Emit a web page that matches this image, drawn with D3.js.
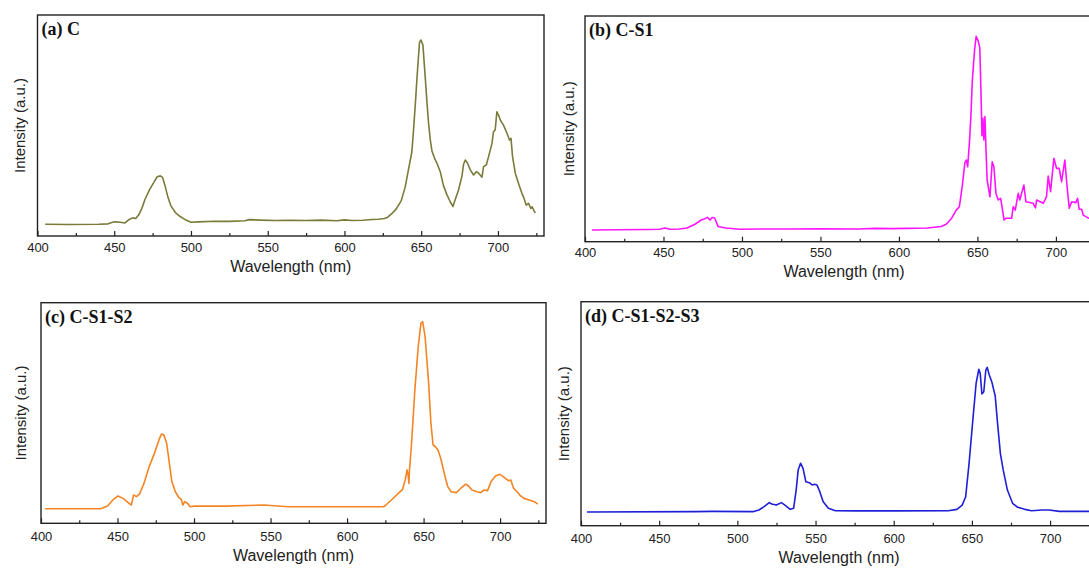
<!DOCTYPE html>
<meta charset="utf-8">
<style>
body { margin: 0; background: #fff; }
svg { display: block; }
.tick text { font-family: "Liberation Sans", Arial, sans-serif; font-size: 13px; fill: #222; }
.tick line { stroke: #222; stroke-width: 1.2; }
.frame { fill: none; stroke: #222; stroke-width: 1.4; }
.axis-title { font-family: "Liberation Sans", Arial, sans-serif; fill: #222; }
.panel-label { font-family: "Liberation Serif", "Times New Roman", serif; font-weight: bold; font-size: 18px; fill: #111; }
</style>
<body>
<script src="https://cdn.jsdelivr.net/npm/d3@7"></script>
<script>

// wavelength ticks (nm)
const xTicks = [400, 425, 450, 475, 500, 525, 550, 575, 600, 625, 650, 675, 700, 725];

// (a) C
const waveA = [405, 420, 440, 446, 450, 454, 457, 460, 462, 464, 466, 468, 470, 473, 476, 478, 480, 481.5, 483, 485, 487, 490, 493, 496, 500, 505, 515, 525, 535, 538, 545, 555, 565, 575, 585, 595, 600, 605, 612, 618, 622, 626, 628, 631, 634, 637, 639.5, 641.7, 643.9, 645, 646.2, 647.2, 648.2, 648.9, 649.8, 651.1, 652.6, 653.8, 654.8, 656, 657, 658.5, 660.2, 662.4, 664.5, 666.8, 668.9, 670.7, 671.5, 674.3, 676.5, 677.6, 678.7, 680.2, 682, 684.1, 685.9, 687.4, 689.6, 690.6, 692.4, 693.9, 696.1, 697.1, 698.2, 699.3, 700.5, 701.5, 703.6, 705.9, 707.5, 708.5, 709.5, 711.3, 713.4, 715.6, 717, 718.4, 719.9, 721.4, 722.3, 723.2, 724.3];
const intA = [5.3, 5.2, 5.3, 5.5, 6.4, 6.2, 5.9, 7.6, 8.2, 7.9, 9.6, 12.5, 16.5, 21, 24.5, 26.8, 27.2, 26.5, 23, 17.5, 13.5, 10.5, 8.8, 7.5, 6.2, 6.4, 6.7, 6.6, 6.9, 7.4, 7.2, 7.0, 7.1, 7.0, 7.2, 6.9, 7.3, 7.0, 7.1, 7.5, 7.6, 7.9, 8.4, 10.2, 12.5, 16, 22, 30, 38, 48, 60, 71, 81, 87.5, 88.7, 86.5, 72, 60, 51, 43, 38.5, 35.5, 33, 29.1, 22.8, 18.6, 15.5, 13.3, 15.2, 20.8, 27, 32.5, 34.4, 32.9, 29.9, 27.6, 29.1, 28.4, 26.6, 31.4, 32.1, 35.9, 41.9, 47.2, 48, 56.2, 54.5, 52.5, 50.2, 46.5, 43.4, 44.2, 35.9, 28.4, 23.8, 19.3, 17, 14, 14.8, 12.5, 13.2, 11.8, 10.3];

// (b) C-S1
const waveB = [404.4, 420, 440, 447.6, 451, 454, 460, 465, 470, 474, 476.5, 478, 479.7, 481, 482.6, 484.8, 489.7, 498.5, 510, 530, 550, 574, 585, 596, 605, 618, 627, 630.3, 633.6, 636.5, 638.5, 640.3, 642, 643, 643.8, 645, 645.8, 646.8, 648.2, 649.2, 650.5, 651.5, 652.2, 652.9, 653.5, 654.1, 654.8, 655.5, 656.2, 658, 659.4, 660.5, 661.8, 663.3, 664.8, 666, 667, 668.2, 671.8, 672.8, 674.1, 676, 677, 679.6, 680.9, 685.5, 687, 687.7, 691.9, 694, 695.1, 696.6, 698.7, 700.4, 702.1, 703.6, 705.7, 707.2, 708.5, 710, 712.7, 713.8, 714.8, 716.4, 717.4, 719.1, 721, 723, 724.5];
const intB = [5.2, 5.3, 5.4, 5.5, 6.1, 5.5, 5.6, 6.1, 7.7, 9.6, 10.2, 10.8, 9.6, 10.7, 10.5, 6.7, 6.1, 5.5, 5.6, 5.6, 5.7, 5.6, 5.9, 5.8, 5.9, 6.1, 6.7, 7.8, 10.4, 14, 15.5, 24.4, 35, 36.2, 33.2, 45, 55, 72, 85, 91, 89, 86, 68, 47, 54.7, 45.1, 55.4, 40, 27.3, 19.9, 35.4, 33.2, 21.4, 18.5, 19.2, 14, 9.6, 10.4, 10.4, 15.5, 14, 21.4, 18.5, 25.1, 17.7, 17, 15, 18.5, 17, 19.9, 29.1, 22.2, 37, 32.5, 32.5, 26.6, 36.2, 23.7, 14.8, 17.7, 17.3, 19.2, 14.4, 14.4, 11.8, 11.1, 10.4, 10.8, 9.8];

// (c) C-S1-S2
const waveC = [402.7, 439, 443.5, 447, 450.3, 453.7, 457.1, 459, 460.5, 462.4, 464.4, 467.3, 470.7, 474.1, 477.1, 478.7, 480.3, 482.1, 483.9, 485.5, 487.8, 490, 491.6, 492.7, 493.9, 495.7, 497.5, 500.2, 520.6, 545.6, 561.5, 577.3, 600, 623.8, 625.4, 629.5, 634, 636.3, 638.1, 639.2, 639.9, 640.4, 640.8, 642, 644.3, 646.5, 648.3, 649.4, 651, 653.3, 654.8, 656.2, 657.8, 659.4, 661.2, 663.5, 665.8, 668, 671.4, 674.4, 677.6, 679.4, 681.6, 685, 687.3, 689.6, 691.8, 694.1, 697, 699.8, 702.5, 705.4, 707, 708.8, 711.1, 713.4, 715.6, 719, 722.4, 724.7];
const intC = [6.6, 6.6, 7.8, 10.6, 12.4, 11.3, 9.3, 8.3, 12.8, 12.1, 13.3, 18.1, 25.7, 31.7, 37.8, 40.5, 40, 36.3, 27.2, 18.9, 14.3, 11.8, 10.9, 8.3, 9.8, 9.1, 7.5, 7.8, 7.8, 8.3, 7.5, 7.5, 7.5, 7.5, 8.3, 10.9, 13.9, 15.4, 19.9, 24.2, 21.9, 18.1, 24.2, 34.7, 60.4, 80, 90.7, 91.4, 84.6, 63.5, 45.3, 35.5, 34.7, 33.2, 29.5, 22.7, 16.6, 14.3, 13.9, 15.9, 17.8, 16.9, 15.1, 14.3, 13.9, 15.1, 14.8, 18.9, 21.4, 22.2, 20.9, 19.3, 19.6, 15.9, 14.3, 12.4, 11.3, 10.6, 9.8, 8.7];

// (d) C-S1-S2-S3
const waveD = [403.8, 472.7, 483.8, 510.4, 513.8, 517.1, 520.4, 522, 524.9, 528.2, 530.4, 533.8, 536, 537.6, 538.9, 540.4, 542, 543.8, 546, 547.8, 549.3, 550.9, 552.7, 554.9, 558.2, 562.7, 577.1, 599.3, 634.9, 640.4, 643.8, 646, 648.2, 650.4, 652.7, 654.4, 655.3, 656.4, 657.6, 658.9, 659.8, 661.1, 662.7, 664.9, 666.4, 668.2, 670, 672.7, 676, 679.3, 683.8, 688.2, 694.9, 699.3, 706, 725];
const intD = [6.1, 6.3, 6.4, 6.3, 7, 8.5, 10.3, 9.7, 9.2, 10.3, 9.2, 7.3, 7.8, 15.9, 24.9, 27.9, 25.6, 19.6, 19.2, 18.2, 18.5, 18.2, 15.2, 10.7, 7.8, 6.7, 6.6, 6.6, 6.7, 7.3, 9.2, 12.9, 27.9, 45.7, 63.6, 69.8, 68, 58.8, 59.8, 69.5, 70.7, 67.3, 64.3, 57.9, 45.7, 32.3, 24.9, 15.9, 10, 8.2, 7.3, 6.7, 7, 7, 6.4, 6.4];

const panels = [
  {label: '(a) C', wave: waveA, inten: intA, color: '#7a7b3b',
   left: 37.5, top: 15, width: 506.5, height: 221, tickY: 16, titleY: 35, ylabX: 25},
  {label: '(b) C-S1', wave: waveB, inten: intB, color: '#ff14ff',
   left: 585, top: 16, width: 518, height: 225.7, tickY: 15.5, titleY: 36, ylabX: 574},
  {label: '(c) C-S1-S2', wave: waveC, inten: intC, color: '#f58424',
   left: 41, top: 302.7, width: 505, height: 220.6, tickY: 18, titleY: 323, ylabX: 26},
  {label: '(d) C-S1-S2-S3', wave: waveD, inten: intD, color: '#1f1fd8',
   left: 581, top: 301.7, width: 516, height: 224, tickY: 17.5, titleY: 322, ylabX: 569}
];

const svg = d3.select('body').append('svg')
    .attr('width', 1089)
    .attr('height', 569);

panels.forEach(function(p) {
    const x = d3.scaleLinear().domain([400, 730]).range([0, p.width]);
    const y = d3.scaleLinear().domain([0, 100]).range([p.height, 0]);

    const g = svg.append('g')
        .attr('transform', 'translate(' + p.left + ',' + p.top + ')');

    const xAxis = d3.axisBottom(x)
        .tickValues(xTicks)
        .tickSize(-5)
        .tickFormat(function(d) { return d % 50 === 0 ? d : ''; });

    const gx = g.append('g')
        .attr('transform', 'translate(0,' + p.height + ')')
        .call(xAxis);
    gx.select('.domain').remove();
    gx.selectAll('.tick line')
        .attr('y2', function(d) { return d % 50 === 0 ? -5 : -3; });
    gx.selectAll('.tick text')
        .attr('y', p.tickY)
        .attr('dy', 0);

    const line = d3.line()
        .x(function(d, i) { return x(p.wave[i]); })
        .y(function(d) { return y(d); });

    g.append('path')
        .datum(p.inten)
        .attr('fill', 'none')
        .attr('stroke', p.color)
        .attr('stroke-width', 1.6)
        .attr('stroke-linejoin', 'round')
        .attr('d', line);

    g.append('rect')
        .attr('class', 'frame')
        .attr('width', p.width)
        .attr('height', p.height);

    g.append('text')
        .attr('class', 'panel-label')
        .attr('x', 4)
        .attr('y', p.titleY - p.top)
        .text(p.label);

    g.append('text')
        .attr('class', 'axis-title')
        .attr('font-size', 16)
        .attr('text-anchor', 'middle')
        .attr('x', p.width / 2)
        .attr('y', p.height + p.tickY + 20)
        .text('Wavelength (nm)');

    svg.append('text')
        .attr('class', 'axis-title')
        .attr('font-size', 15)
        .attr('text-anchor', 'middle')
        .attr('transform', 'translate(' + p.ylabX + ',' + (p.top + p.height / 2) + ') rotate(-90)')
        .text('Intensity (a.u.)');
});

</script>
</body>
